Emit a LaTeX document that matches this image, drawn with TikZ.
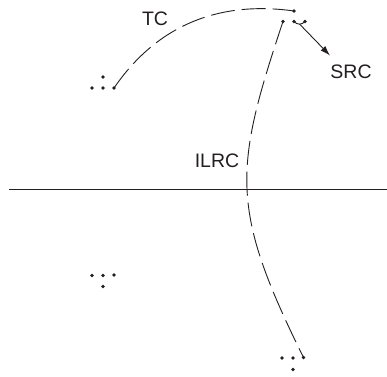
\documentclass[tikz,border=0pt]{standalone}
\usepackage{fontspec}
\setmainfont{Liberation Sans}
\usetikzlibrary{arrows.meta}
\definecolor{ink}{HTML}{231F20}
\tikzset{
  pt/.style={circle, fill=ink, inner sep=0pt, minimum size=3.6pt},
  route/.style={draw=ink, line width=0.9pt, dash pattern=on 24pt off 7pt},
  lbl/.style={text=ink, font=\fontsize{19.5}{22}\selectfont, inner sep=0pt},
}
\begin{document}
\begin{tikzpicture}[x=1pt, y=-1pt]
  \useasboundingbox (0,0) rectangle (387,376);

  % upper-left dot group
  \node[pt] (a1) at (92,88) {};
  \node[pt] (a2) at (103,88) {};
  \node[pt] (a3) at (114,88) {};
  \node[pt] (a4) at (103,77) {};

  % upper-right dot group
  \node[pt] (b0) at (294,11) {};
  \node[pt] (b1) at (283,21.5) {};
  \node[pt] (b2) at (294,21.5) {};
  \node[pt] (b3) at (305,21.5) {};

  % lower-left dot group
  \node[pt] (c1) at (92,275.5) {};
  \node[pt] (c2) at (103,275.5) {};
  \node[pt] (c3) at (114,275) {};
  \node[pt] (c4) at (103,286.5) {};

  % lower-right dot group
  \node[pt] (d1) at (282,358) {};
  \node[pt] (d2) at (293,358) {};
  \node[pt] (d3) at (303.5,357.5) {};
  \node[pt] (d4) at (293,369.5) {};

  % dividing line
  \coordinate (hl) at (9,189.3);
  \coordinate (hr) at (387,189.3);
  \draw[ink, line width=1pt] (hl) -- (hr);

  % labels
  \node[lbl] (tc) at (155,19) {TC};
  \node[lbl] (src) at (351,71.5) {SRC};
  \node[lbl] (ilrc) at (217,161) {ILRC};

  % TC route
  \draw[route] (a3.center) .. controls (166,12) and (238,3) .. (b0.center);

  % ILRC route
  \draw[route] (b1.center) .. controls (233.4,170) and (229.8,208.6) .. (d3.center);

  % small link and SRC arrow
  \draw[ink, line width=0.9pt] (b2.center) .. controls (297,25) and (302,25) .. (b3.center);
  \coordinate (s0) at (299.5,24);
  \coordinate (s1) at (330,55.5);
  \draw[ink, line width=0.9pt, -{Latex[length=10pt,width=6.5pt]}] (s0) -- (s1);
\end{tikzpicture}
\end{document}
